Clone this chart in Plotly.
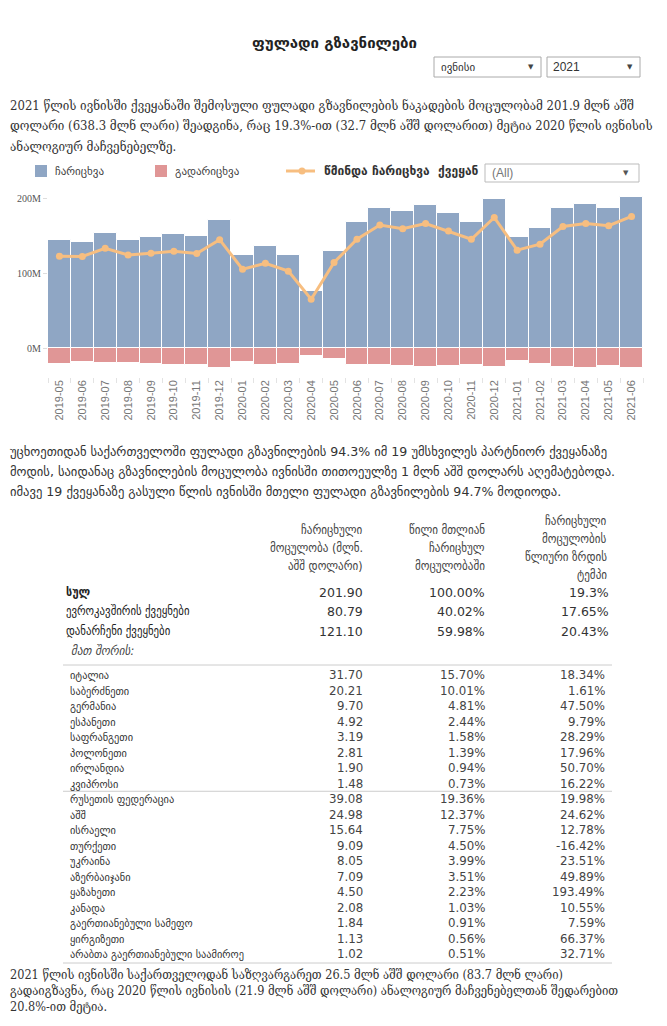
import plotly.graph_objects as go

# ---------------- data ----------------
months = ["2019-05", "2019-06", "2019-07", "2019-08", "2019-09", "2019-10", "2019-11", "2019-12",
          "2020-01", "2020-02", "2020-03", "2020-04", "2020-05", "2020-06", "2020-07", "2020-08",
          "2020-09", "2020-10", "2020-11", "2020-12", "2021-01", "2021-02", "2021-03", "2021-04",
          "2021-05", "2021-06"]
inflow_musd = [144, 141, 153, 144, 148, 152, 149, 171, 124, 136, 124, 76, 129, 168, 187, 183,
               191, 180, 168, 199, 148, 160, 187, 192, 187, 201.9]
outflow_musd = [21.5, 19, 20, 20, 21.5, 23, 23, 26.5, 19, 23, 21.5, 11, 15, 23, 23, 24,
                25, 24, 23, 25, 17.5, 21.5, 25, 26, 24, 26.5]

y_tick_vals = [0, 100, 200]
y_tick_text = ["0M", "100M", "200M"]

legend_labels = ["ჩარიცხვა", "გადარიცხვა", "წმინდა ჩარიცხვა  ქვეყან"]

title_text = "ფულადი გზავნილები"
month_choice = "ივნისი"
year_choice = "2021"
country_choice = "(All)"

para1 = ["2021 წლის ივნისში ქვეყანაში შემოსული ფულადი გზავნილების ნაკადების მოცულობამ 201.9 მლნ აშშ",
         "დოლარი (638.3 მლნ ლარი) შეადგინა, რაც 19.3%-ით (32.7 მლნ აშშ დოლარით) მეტია 2020 წლის ივნისის",
         "ანალოგიურ მაჩვენებელზე."]
para2 = ["უცხოეთიდან საქართველოში ფულადი გზავნილების 94.3% იმ 19 უმსხვილეს პარტნიორ ქვეყანაზე",
         "მოდის, საიდანაც გზავნილების მოცულობა ივნისში თითოეულზე 1 მლნ აშშ დოლარს აღემატებოდა.",
         "იმავე 19 ქვეყანაზე გასული წლის ივნისში მთელი ფულადი გზავნილების 94.7% მოდიოდა."]
para3 = ["2021 წლის ივნისში საქართველოდან საზღვარგარეთ 26.5 მლნ აშშ დოლარი (83.7 მლნ ლარი)",
         "გადაიგზავნა, რაც 2020 წლის ივნისის (21.9 მლნ აშშ დოლარი) ანალოგიურ მაჩვენებელთან შედარებით",
         "20.8%-ით მეტია."]

col1_header = ["ჩარიცხული", "მოცულობა (მლნ.", "აშშ დოლარი)"]
col2_header = ["წილი მთლიან", "ჩარიცხულ", "მოცულობაში"]
col3_header = ["ჩარიცხული", "მოცულობის", "წლიური ზრდის", "ტემპი"]

summary_labels = ["სულ", "ევროკავშირის ქვეყნები", "დანარჩენი ქვეყნები"]
summary_volume = ["201.90", "80.79", "121.10"]
summary_share = ["100.00%", "40.02%", "59.98%"]
summary_growth = ["19.3%", "17.65%", "20.43%"]
among_them = "მათ შორის:"

eu_countries = ["იტალია", "საბერძნეთი", "გერმანია", "ესპანეთი", "საფრანგეთი", "პოლონეთი",
                "ირლანდია", "კვიპროსი"]
eu_volume = [31.70, 20.21, 9.70, 4.92, 3.19, 2.81, 1.90, 1.48]
eu_share = [15.70, 10.01, 4.81, 2.44, 1.58, 1.39, 0.94, 0.73]
eu_growth = [18.34, 1.61, 47.50, 9.79, 28.29, 17.96, 50.70, 16.22]

other_countries = ["რუსეთის ფედერაცია", "აშშ", "ისრაელი", "თურქეთი", "უკრაინა", "აზერბაიჯანი",
                   "ყაზახეთი", "კანადა", "გაერთიანებული სამეფო", "ყირგიზეთი",
                   "არაბთა გაერთიანებული საამიროე"]
other_volume = [39.08, 24.98, 15.64, 9.09, 8.05, 7.09, 4.50, 2.08, 1.84, 1.13, 1.02]
other_share = [19.36, 12.37, 7.75, 4.50, 3.99, 3.51, 2.23, 1.03, 0.91, 0.56, 0.51]
other_growth = [19.98, 24.62, 12.78, -16.42, 23.51, 49.89, 193.49, 10.55, 7.59, 66.37, 32.71]

# ---------------- geometry helpers (page pixels -> paper) ----------------
W, H = 651, 1010
OX, OY = 8, 8


def X(px):
    return (px - OX) / W


def Y(py):
    return 1 - (py - OY) / H


SANS = "DejaVu Sans"
SERIF = "DejaVu Serif Condensed, DejaVu Serif"
COND = "DejaVu Sans Condensed, DejaVu Sans"

annotations = []
shapes = []


def txt(px, py, text, size=12, color="#333333", family=SANS, xanchor="left", yanchor="middle"):
    annotations.append(dict(x=X(px), y=Y(py), xref="paper", yref="paper", text=text,
                            showarrow=False, xanchor=xanchor, yanchor=yanchor,
                            font=dict(size=size, color=color, family=family)))


def rect(x0, y0, x1, y1, line="#aaaaaa", fill="white", lw=1):
    shapes.append(dict(type="rect", xref="paper", yref="paper", x0=X(x0), x1=X(x1),
                       y0=Y(y1), y1=Y(y0), line=dict(color=line, width=lw), fillcolor=fill,
                       layer="above"))


def hline(x0, x1, py, color="#cccccc", width=1):
    shapes.append(dict(type="line", xref="paper", yref="paper", x0=X(x0), x1=X(x1),
                       y0=Y(py), y1=Y(py), line=dict(color=color, width=width)))


# ---------------- figure ----------------
net_musd = [i - o for i, o in zip(inflow_musd, outflow_musd)]

BLUE = "#8FA6C4"
RED = "#E09696"
ORANGE = "#F7BE80"

fig = go.Figure()
fig.add_trace(go.Bar(x=months, y=inflow_musd, name=legend_labels[0], marker_color=BLUE,
                     marker_line=dict(color="white", width=1)))
fig.add_trace(go.Bar(x=months, y=[-v for v in outflow_musd], name=legend_labels[1],
                     marker_color=RED, marker_line=dict(color="white", width=1)))
fig.add_trace(go.Scatter(x=months, y=net_musd, name=legend_labels[2], mode="lines+markers",
                         line=dict(color=ORANGE, width=3), marker=dict(size=7, color=ORANGE)))

# y axis calibration: 0 at page y 348, 0.75 px per million
y_top_px, y_bot_px, zero_px, ppm = 185, 377, 348, 0.75
y_range = [-(y_bot_px - zero_px) / ppm, (zero_px - y_top_px) / ppm]

# ---------------- title & selectors ----------------
txt(334, 43, "<b>" + title_text + "</b>", size=15, color="#222222", xanchor="center")
rect(434, 57, 541, 77)
txt(439, 67, month_choice, size=11, color="#333333")
txt(531, 67, "▼", size=7, color="#444444", xanchor="center")
rect(547, 57, 640, 77)
txt(551, 67, year_choice, size=12, color="#333333", family="Liberation Sans")
txt(630, 67, "▼", size=7, color="#444444", xanchor="center")

# paragraph 1
for i, line in enumerate(para1):
    txt(8, 106 + 20 * i, line, size=13, color="#333333", family=SERIF)

# custom legend
rect(35, 165, 47, 177, line=BLUE, fill=BLUE, lw=0)
txt(53, 171, legend_labels[0], size=11, color="#444444")
rect(155, 165, 167, 177, line=RED, fill=RED, lw=0)
txt(173, 171, legend_labels[1], size=11, color="#444444")
shapes.append(dict(type="line", xref="paper", yref="paper", x0=X(286), x1=X(315), y0=Y(171),
                   y1=Y(171), line=dict(color=ORANGE, width=3)))
shapes.append(dict(type="circle", xref="paper", yref="paper", x0=X(298.5), x1=X(305.5),
                   y0=Y(174.5), y1=Y(167.5), line=dict(color=ORANGE, width=0), fillcolor=ORANGE))
txt(322, 171, "<b>" + legend_labels[2] + "</b>", size=12, color="#333333")
rect(485, 164, 639, 182, line="#bbbbbb")
txt(490, 173, country_choice, size=12, color="#777777", family="Liberation Sans")
txt(626, 173, "▼", size=7, color="#555555", xanchor="center")

# paragraph 2
for i, line in enumerate(para2):
    txt(8, 452 + 19.5 * i, line, size=12.6, color="#333333", family=SANS)

# table header
for i, line in enumerate(col1_header):
    txt(365, 530 + 18 * i, line, size=12.3, color="#444444", xanchor="right", family=COND)
for i, line in enumerate(col2_header):
    txt(487, 530 + 18 * i, line, size=12.3, color="#444444", xanchor="right", family=COND)
for i, line in enumerate(col3_header):
    txt(609, 521 + 18 * i, line, size=12.3, color="#444444", xanchor="right", family=COND)

# summary rows
sum_y = [592, 611, 631]
for i in range(3):
    lab = summary_labels[i]
    if i == 0:
        lab = "<b>" + lab + "</b>"
    txt(64, sum_y[i], lab, size=12, color="#222222", family=COND)
    txt(365, sum_y[i], summary_volume[i], size=12.5, color="#333333", xanchor="right")
    txt(487, sum_y[i], summary_share[i], size=12.5, color="#333333", xanchor="right")
    txt(611, sum_y[i], summary_growth[i], size=12.5, color="#333333", xanchor="right")
txt(69, 650, "<i>" + among_them + "</i>", size=12.5, color="#444444", family=COND)

hline(63, 612, 665)
row_step = 15.5
rows = list(zip(eu_countries, eu_volume, eu_share, eu_growth)) + \
    list(zip(other_countries, other_volume, other_share, other_growth))
for k, (name, vol, sh, gr) in enumerate(rows):
    yy = 675 + row_step * k
    txt(68, yy, name, size=11.5, color="#333333", family=COND)
    txt(365, yy, f"{vol:.2f}", size=11.8, color="#444444", xanchor="right")
    txt(487, yy, f"{sh:.2f}%", size=11.8, color="#444444", xanchor="right")
    txt(607, yy, f"{gr:.2f}%", size=11.8, color="#444444", xanchor="right")
hline(63, 612, 675 + row_step * 7.5)
hline(63, 612, 675 + row_step * 18 + 9)

# paragraph 3
for i, line in enumerate(para3):
    txt(8, 974 + 16 * i, line, size=12.6, color="#333333", family=SERIF)

fig.update_layout(
    width=W, height=H,
    margin=dict(l=0, r=0, t=0, b=0, autoexpand=False),
    paper_bgcolor="white", plot_bgcolor="white",
    barmode="relative", bargap=0,
    showlegend=False,
    annotations=annotations, shapes=shapes,
    xaxis=dict(domain=[X(48), X(643)], type="category", range=[-0.5, len(months) - 0.5],
               autorange=False, tickangle=-90,
               tickfont=dict(family="Liberation Sans", size=11, color="#777777"),
               ticks="outside", ticklen=5, tickcolor="#e3e3e3", tickson="boundaries",
               showgrid=False, zeroline=False, showline=False, anchor="y", automargin=False),
    yaxis=dict(domain=[Y(y_bot_px), Y(y_top_px)], range=y_range, autorange=False,
               tickvals=y_tick_vals, ticktext=y_tick_text,
               tickfont=dict(family="Liberation Serif", size=10, color="#555555"),
               ticks="outside", ticklen=4, tickcolor="#dddddd", automargin=False,
               showgrid=False, zeroline=False, showline=False),
)

fig.write_html("out.html")
